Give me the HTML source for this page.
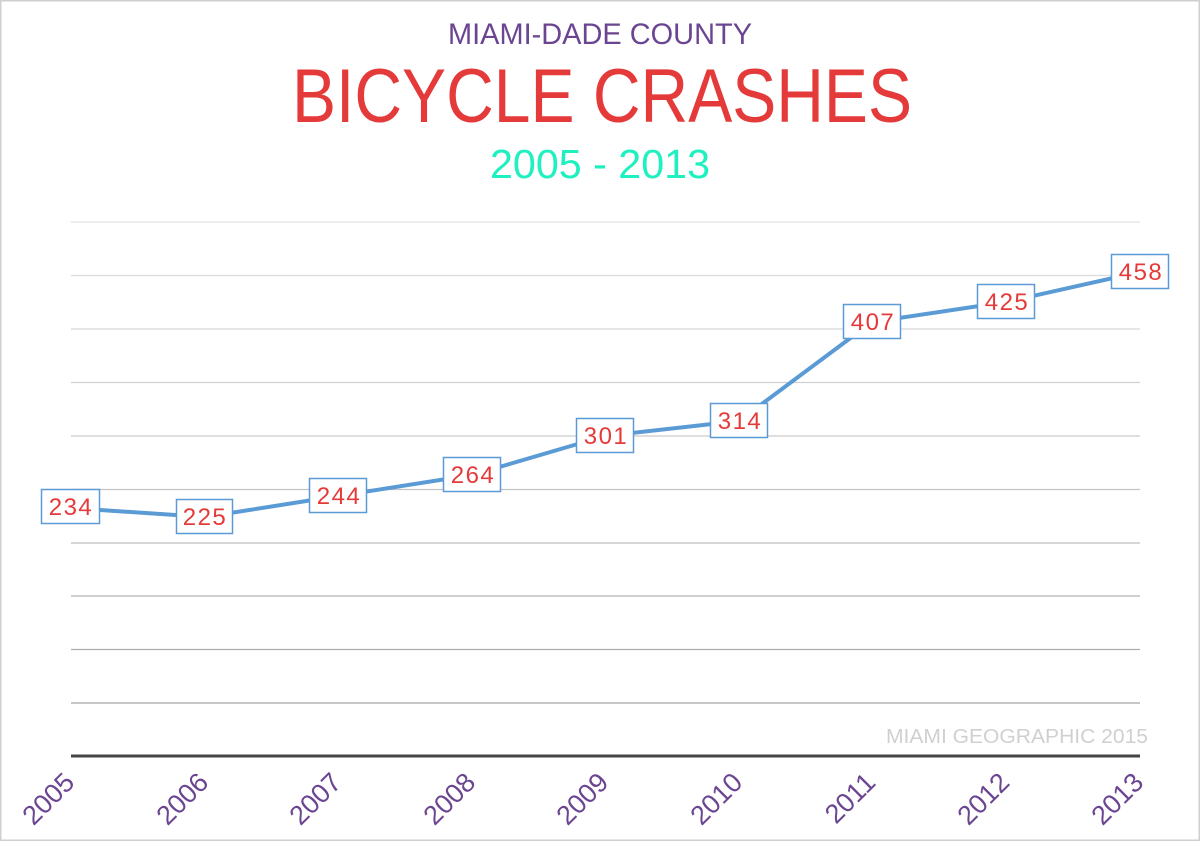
<!DOCTYPE html>
<html><head><meta charset="utf-8"><style>
html,body{margin:0;padding:0;background:#fff}
svg{display:block}
</style></head><body>
<svg width="1200" height="841" viewBox="0 0 1200 841" xmlns="http://www.w3.org/2000/svg" font-family="Liberation Sans, sans-serif">
<rect x="0.5" y="0.5" width="1199" height="840" fill="#fff" stroke="#cfcfcf" stroke-width="2"/>
<text x="600" y="44" text-anchor="middle" font-size="30" fill="#6b4591" textLength="304" lengthAdjust="spacingAndGlyphs">MIAMI-DADE COUNTY</text>
<text x="602" y="122" text-anchor="middle" font-size="76" fill="#e53a3a" textLength="620" lengthAdjust="spacingAndGlyphs">BICYCLE CRASHES</text>
<text x="600" y="178" text-anchor="middle" font-size="41" fill="#1ef0c0" textLength="220" lengthAdjust="spacingAndGlyphs">2005 - 2013</text>
<g stroke-width="1.2">
<line x1="71" x2="1140" y1="222" y2="222" stroke="#e2e2e2"/>
<line x1="71" x2="1140" y1="275.5" y2="275.5" stroke="#dcdcdc"/>
<line x1="71" x2="1140" y1="329" y2="329" stroke="#d6d6d6"/>
<line x1="71" x2="1140" y1="382.5" y2="382.5" stroke="#d0d0d0"/>
<line x1="71" x2="1140" y1="436" y2="436" stroke="#cacaca"/>
<line x1="71" x2="1140" y1="489.5" y2="489.5" stroke="#c4c4c4"/>
<line x1="71" x2="1140" y1="543" y2="543" stroke="#bdbdbd"/>
<line x1="71" x2="1140" y1="596" y2="596" stroke="#b5b5b5"/>
<line x1="71" x2="1140" y1="649.5" y2="649.5" stroke="#adadad"/>
<line x1="71" x2="1140" y1="703" y2="703" stroke="#a5a5a5"/>
</g>
<line x1="71" x2="1140" y1="756" y2="756" stroke="#444" stroke-width="3"/>
<text x="1148" y="743" text-anchor="end" font-size="20" fill="#d0d0d0" textLength="262" lengthAdjust="spacingAndGlyphs">MIAMI GEOGRAPHIC 2015</text>
<polyline fill="none" stroke="#5b9bd5" stroke-width="4" stroke-linejoin="round" points="70,508 205,517 338,496 472,475 605,436 739,421 872,322 1006,302 1140,272"/>
<g font-size="24" fill="#e53a3a" text-anchor="middle" letter-spacing="1.5">
<g stroke="#5b9bd5" stroke-width="1.5" fill="#fff" letter-spacing="0">
<rect x="41.5" y="489.5" width="58" height="34"/>
<rect x="176.5" y="499.5" width="56" height="34"/>
<rect x="309.5" y="478.5" width="57" height="34"/>
<rect x="443.5" y="457.5" width="57" height="34"/>
<rect x="576.5" y="418.5" width="57" height="34"/>
<rect x="710.5" y="403.5" width="57" height="34"/>
<rect x="843.5" y="304.5" width="57" height="34"/>
<rect x="977.5" y="284.5" width="57" height="34"/>
<rect x="1111.5" y="254.5" width="57" height="34"/>
</g>
<text x="71" y="515">234</text>
<text x="205" y="525">225</text>
<text x="339" y="504">244</text>
<text x="473" y="483">264</text>
<text x="606" y="444">301</text>
<text x="740" y="429">314</text>
<text x="873" y="330">407</text>
<text x="1007" y="310">425</text>
<text x="1141" y="280">458</text>
</g>
<g font-size="27" fill="#6b4591" text-anchor="end">
<text transform="translate(76,784) rotate(-45)">2005</text>
<text transform="translate(210,784) rotate(-45)">2006</text>
<text transform="translate(343,784) rotate(-45)">2007</text>
<text transform="translate(477,784) rotate(-45)">2008</text>
<text transform="translate(610,784) rotate(-45)">2009</text>
<text transform="translate(744,784) rotate(-45)">2010</text>
<text transform="translate(877,784) rotate(-45)">2011</text>
<text transform="translate(1011,784) rotate(-45)">2012</text>
<text transform="translate(1145,784) rotate(-45)">2013</text>
</g>
</svg>
</body></html>
